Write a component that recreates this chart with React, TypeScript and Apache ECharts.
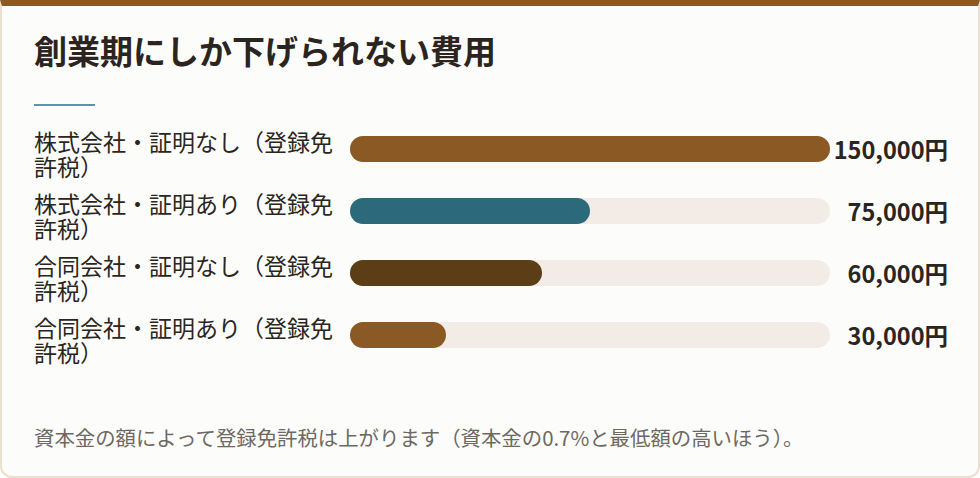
import React, { useEffect, useRef } from 'react';
import * as echarts from 'echarts';

const categories = [
  '株式会社・証明なし（登録免許税）',
  '株式会社・証明あり（登録免許税）',
  '合同会社・証明なし（登録免許税）',
  '合同会社・証明あり（登録免許税）',
];
const values = [150000, 75000, 60000, 30000];
const barColors = ['#8b5a24', '#2c6a7b', '#5b3d16', '#8b5a24'];
const maxValue = 150000;

const titleText = '創業期にしか下げられない費用';
const noteText = '資本金の額によって登録免許税は上がります（資本金の0.7%と最低額の高いほう）。';

const FONT = '"Noto Sans CJK JP", "Noto Sans", sans-serif';

const App = () => {
  const chartRef = useRef(null);

  useEffect(() => {
    const chart = echarts.init(chartRef.current, null, { renderer: 'svg' });

    const valueLabels = values.map((v) => v.toLocaleString('en-US') + '円');

    const option = {
      animation: false,
      title: [
        {
          text: titleText,
          left: 29,
          top: 28,
          textStyle: {
            fontFamily: FONT,
            fontSize: 33,
            fontWeight: 'bold',
            color: '#2b241f',
          },
        },
        {
          text: noteText,
          left: 29,
          top: 422,
          textStyle: {
            fontFamily: FONT,
            fontSize: 20.4,
            fontWeight: 'normal',
            color: '#6e6862',
          },
        },
      ],
      graphic: [
        {
          type: 'line',
          shape: { x1: 34, y1: 105, x2: 95, y2: 105 },
          style: { stroke: '#2e6f87', lineWidth: 1.5 },
        },
      ],
      grid: {
        left: 350,
        right: 150,
        top: 118,
        bottom: 112,
        containLabel: false,
      },
      xAxis: {
        type: 'value',
        min: 0,
        max: maxValue,
        show: false,
      },
      yAxis: [
        {
          type: 'category',
          inverse: true,
          data: categories,
          axisLine: { show: false },
          axisTick: { show: false },
          axisLabel: {
            align: 'left',
            margin: 316,
            padding: [8, 0, 0, 0],
            formatter: (s: string) => '{t|' + s.slice(0, 13) + '}\n{t|' + s.slice(13) + '}',
            rich: {
              t: {
                fontFamily: FONT,
                fontSize: 23,
                lineHeight: 25,
                color: '#2b2520',
              },
            },
          },
        },
        {
          type: 'category',
          inverse: true,
          position: 'right',
          data: valueLabels,
          axisLine: { show: false },
          axisTick: { show: false },
          axisLabel: {
            align: 'right',
            margin: 118,
            fontFamily: FONT,
            fontSize: 23.5,
            fontWeight: 'bold',
            color: '#2b2520',
          },
        },
      ],
      series: [
        {
          type: 'bar',
          yAxisIndex: 0,
          barWidth: 26,
          showBackground: true,
          backgroundStyle: { color: '#f3ece6', borderRadius: 13 },
          data: values.map((v, i) => ({
            value: v,
            itemStyle: { color: barColors[i], borderRadius: 13 },
          })),
        },
      ],
    };

    chart.setOption(option);

    return () => {
      chart.dispose();
    };
  }, []);

  return (
    <div>
      <div
        style={{
          position: 'fixed',
          left: 0,
          top: 0,
          width: 980,
          height: 478,
          boxSizing: 'border-box',
          background: '#fcfdfb',
          borderTop: '6px solid #8b5a24',
          borderLeft: '2px solid #ebe0cf',
          borderRight: '2px solid #ebe0cf',
          borderBottom: '2px solid #ebe0cf',
          borderRadius: '0 0 12px 12px',
        }}
      />
      <div
        ref={chartRef}
        style={{ position: 'fixed', left: 0, top: 0, width: 980, height: 478 }}
      />
    </div>
  );
};

export default App;
